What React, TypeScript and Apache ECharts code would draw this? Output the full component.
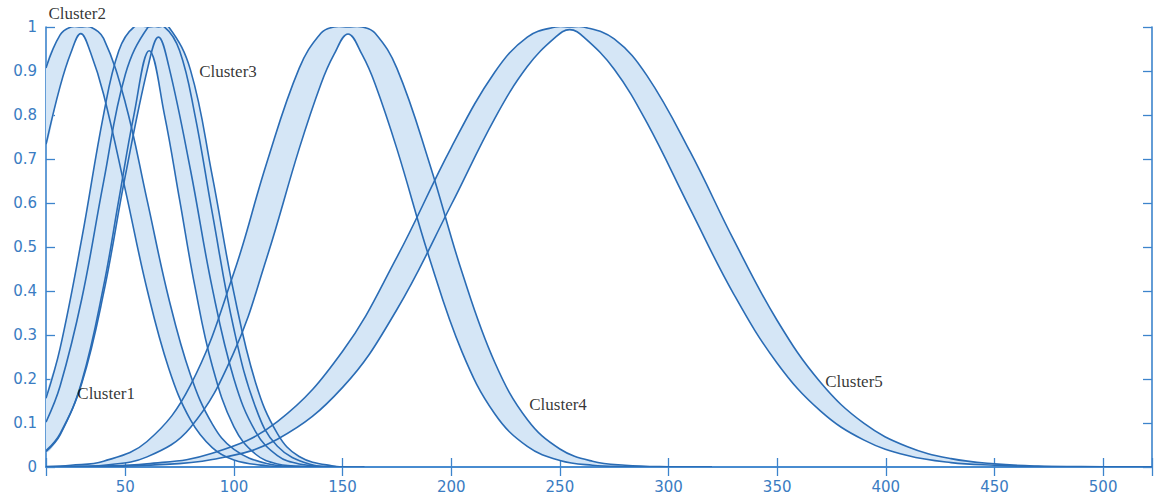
import React, { useEffect, useRef } from 'react';
import * as echarts from 'echarts';

// Axis ranges and tick labels
const X_MIN = 13.5;
const X_MAX = 522.5;
const xTickLabels = [50, 100, 150, 200, 250, 300, 350, 400, 450, 500];
const yTickLabels = [0, 0.1, 0.2, 0.3, 0.4, 0.5, 0.6, 0.7, 0.8, 0.9, 1];

// Cluster names
const clusterNames = ['Cluster1', 'Cluster2', 'Cluster3', 'Cluster4', 'Cluster5'];

// Cluster 1 (upper / lower membership)
const c1X = [13.5, 20, 30, 40, 47, 54, 61, 68, 75, 82, 90, 100, 110, 120, 135, 150];
const c1Upper = [0.156, 0.27, 0.52, 0.801, 0.946, 1, 1, 1, 0.946, 0.801, 0.578, 0.313, 0.135, 0.047, 0.006, 0];
const c1Lower = [0.035, 0.073, 0.195, 0.411, 0.607, 0.801, 0.946, 0.801, 0.607, 0.411, 0.23, 0.091, 0.029, 0.007, 0.001, 0];

// Cluster 2
const c2X = [13.5, 20, 25, 29.5, 34, 40, 50, 60, 70, 80, 90, 100, 115, 130, 150];
const c2Upper = [0.907, 0.982, 1, 1, 1, 0.974, 0.828, 0.607, 0.383, 0.209, 0.098, 0.04, 0.008, 0.001, 0];
const c2Lower = [0.733, 0.865, 0.942, 0.985, 0.942, 0.847, 0.63, 0.404, 0.224, 0.107, 0.044, 0.016, 0.003, 0, 0];

// Cluster 3
const c3X = [13.5, 20, 30, 40, 50, 60.5, 65.25, 70, 80, 90, 100, 110, 120, 130, 145, 160];
const c3Upper = [0.102, 0.184, 0.383, 0.648, 0.892, 1, 1, 1, 0.902, 0.662, 0.395, 0.191, 0.076, 0.024, 0.003, 0];
const c3Lower = [0.037, 0.076, 0.191, 0.395, 0.662, 0.911, 0.977, 0.911, 0.675, 0.407, 0.2, 0.08, 0.026, 0.007, 0.001, 0];

// Cluster 4
const c4X = [13.5, 25, 40, 60, 80, 100, 115, 130, 140, 146, 152.5, 159, 165, 175, 190, 205, 220, 235, 250, 265, 280, 300, 320];
const c4Upper = [0.001, 0.004, 0.013, 0.058, 0.186, 0.442, 0.69, 0.906, 0.986, 1, 1, 1, 0.986, 0.906, 0.69, 0.442, 0.238, 0.108, 0.041, 0.013, 0.004, 0.0005, 0];
const c4Lower = [0.0003, 0.001, 0.004, 0.023, 0.09, 0.261, 0.474, 0.723, 0.87, 0.937, 0.984, 0.937, 0.87, 0.723, 0.474, 0.261, 0.121, 0.047, 0.015, 0.004, 0.001, 0.0001, 0];

// Cluster 5
const c5X = [13.5, 35, 60, 90, 120, 150, 175, 200, 220, 235, 248, 254.5, 261, 275, 290, 310, 330, 350, 370, 390, 410, 430, 450, 470, 490, 522.5];
const c5Upper = [0.0005, 0.0018, 0.007, 0.031, 0.103, 0.263, 0.477, 0.726, 0.897, 0.977, 1, 1, 1, 0.973, 0.89, 0.716, 0.516, 0.333, 0.192, 0.099, 0.046, 0.019, 0.007, 0.002, 0.001, 0];
const c5Lower = [0.0002, 0.0008, 0.004, 0.017, 0.063, 0.181, 0.358, 0.596, 0.792, 0.91, 0.977, 0.994, 0.977, 0.904, 0.783, 0.586, 0.393, 0.236, 0.127, 0.061, 0.026, 0.01, 0.004, 0.001, 0.0003, 0];

// Label anchor positions (data coordinates), same order as clusterNames
const labelX = [27.9, 14.6, 84.0, 235.9, 372.1];
const labelY = [0.168, 1.03, 0.898, 0.141, 0.195];

const LINE = '#2a6cb5';
const FILL = '#d5e6f6';
const AXIS = '#3d84cc';
const AXIS_TEXT = '#3a7cc2';
const SMOOTH = 0.4;

export default function App() {
  const ref = useRef<HTMLDivElement>(null);

  useEffect(() => {
    if (!ref.current) return;
    const chart = echarts.init(ref.current, null, { renderer: 'svg' });

    const clusters = [
      { x: c1X, u: c1Upper, l: c1Lower },
      { x: c2X, u: c2Upper, l: c2Lower },
      { x: c3X, u: c3Upper, l: c3Lower },
      { x: c4X, u: c4Upper, l: c4Lower },
      { x: c5X, u: c5Upper, l: c5Lower },
    ];
    const anchorData = clusters.map((c, i) => ({ name: clusterNames[i], value: [c.x[0], 0, i] }));

    const bandSeries = {
      type: 'custom',
      name: 'bands',
      clip: true,
      silent: true,
      z: 1,
      data: anchorData,
      renderItem: (params: any, api: any) => {
        const c = clusters[params.dataIndex];
        const up = c.x.map((x, j) => api.coord([x, c.u[j]]));
        const lo = c.x.map((x, j) => api.coord([x, c.l[j]])).reverse();
        return {
          type: 'polygon',
          shape: { points: up.concat(lo), smooth: SMOOTH },
          style: { fill: FILL, stroke: null },
        };
      },
    };

    const lineSeries = {
      type: 'custom',
      name: 'bounds',
      clip: true,
      silent: true,
      z: 3,
      data: anchorData,
      renderItem: (params: any, api: any) => {
        const c = clusters[params.dataIndex];
        const up = c.x.map((x, j) => api.coord([x, c.u[j]]));
        const lo = c.x.map((x, j) => api.coord([x, c.l[j]]));
        return {
          type: 'group',
          children: [
            {
              type: 'polyline',
              shape: { points: up, smooth: SMOOTH },
              style: { fill: null, stroke: LINE, lineWidth: 1.6 },
            },
            {
              type: 'polyline',
              shape: { points: lo, smooth: SMOOTH },
              style: { fill: null, stroke: LINE, lineWidth: 1.6 },
            },
          ],
        };
      },
    };

    const labelSeries = {
      type: 'scatter',
      name: 'labels',
      clip: false,
      symbolSize: 0,
      z: 5,
      silent: true,
      data: clusterNames.map((n, i) => ({ name: n, value: [labelX[i], labelY[i]] })),
      label: {
        show: true,
        position: 'right',
        distance: 0,
        formatter: (p: any) => p.name,
        color: '#000',
        fontFamily: 'Liberation Serif',
        fontSize: 17,
      },
    };

    const xAxisBase = {
      type: 'value',
      min: X_MIN,
      max: X_MAX,
      splitNumber: 10,
      splitLine: { show: false },
      axisLine: { show: true, lineStyle: { color: AXIS, width: 1.6 } },
      axisTick: { show: true, inside: true, length: 9, lineStyle: { color: AXIS, width: 1.3 } },
    };
    const yAxisBase = {
      type: 'value',
      min: 0,
      max: 1,
      interval: 0.1,
      splitLine: { show: false },
      axisLine: { show: true, lineStyle: { color: AXIS, width: 1.6 } },
      axisTick: { show: true, inside: true, length: 9, lineStyle: { color: AXIS, width: 1.3 } },
    };

    chart.setOption({
      animation: false,
      backgroundColor: '#ffffff',
      grid: { left: 46, right: 9, top: 27, bottom: 30, outerBoundsMode: 'none' },
      xAxis: [
        {
          ...xAxisBase,
          position: 'bottom',
          axisLabel: {
            show: true,
            margin: 12,
            color: AXIS_TEXT,
            fontFamily: 'DejaVu Sans',
            fontSize: 15,
            formatter: (v: number) => (xTickLabels.indexOf(v) >= 0 ? String(v) : ''),
          },
        },
        {
          ...xAxisBase,
          position: 'top',
          axisLabel: { show: false },
        },
      ],
      yAxis: [
        {
          ...yAxisBase,
          position: 'left',
          axisLabel: {
            show: true,
            margin: 9,
            color: AXIS_TEXT,
            fontFamily: 'DejaVu Sans',
            fontSize: 15,
            formatter: (v: number) => {
              const r = Math.round(v * 10) / 10;
              return yTickLabels.indexOf(r) >= 0 ? String(r) : '';
            },
          },
        },
        {
          ...yAxisBase,
          position: 'right',
          axisLabel: { show: false },
        },
      ],
      series: [bandSeries, lineSeries, labelSeries],
    });

    return () => chart.dispose();
  }, []);

  return (
    <div
      ref={ref}
      style={{ position: 'fixed', left: 0, top: 0, width: 1161, height: 497, background: '#fff' }}
    />
  );
}
